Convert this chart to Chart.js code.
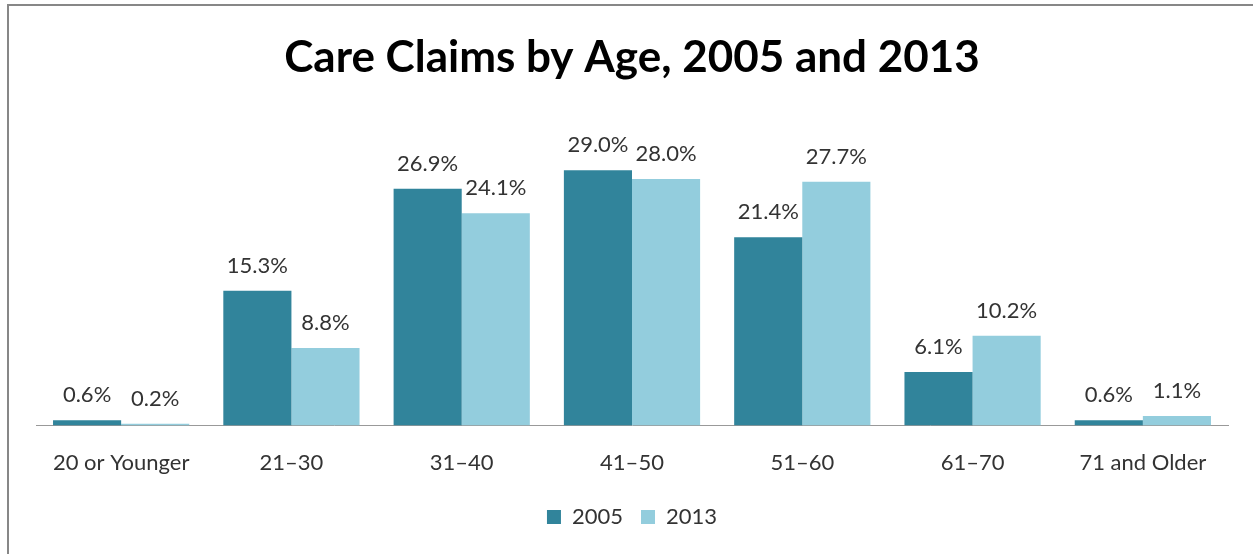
<!DOCTYPE html>
<html>
<head>
<meta charset="utf-8">
<script src="https://cdn.jsdelivr.net/npm/chart.js@4"></script>
<style>
  html, body { margin: 0; padding: 0; background: #fff; }
  #wrap { position: relative; width: 1253px; height: 554px; overflow: hidden; }
  #frame { position: absolute; left: 7px; top: 4px; width: 1400px; height: 700px;
           border: 2px solid #878787; box-sizing: border-box; }
  #chart { position: absolute; left: 0; top: 0; }
</style>
</head>
<body>
<div id="wrap">
  <div id="frame"></div>
  <canvas id="chart" width="1253" height="554"></canvas>
</div>
<script>
const ageGroups = ['20 or Younger', '21\u201330', '31\u201340', '41\u201350', '51\u201360', '61\u201370', '71 and Older'];
const claims2005 = [0.6, 15.3, 26.9, 29.0, 21.4, 6.1, 0.6];
const claims2013 = [0.2, 8.8, 24.1, 28.0, 27.7, 10.2, 1.1];

const FONT = 'Lato, "Open Sans", sans-serif';
const TEXT = '#333333';

// draws "x.x%" above each bar, positioned from the bar elements
const barLabels = {
    id: 'barLabels',
    afterDatasetsDraw: function (chart) {
        const ctx = chart.ctx;
        ctx.save();
        ctx.font = '22px ' + FONT;
        ctx.fillStyle = TEXT;
        ctx.textAlign = 'center';
        ctx.textBaseline = 'middle';
        chart.data.datasets.forEach(function (ds, i) {
            chart.getDatasetMeta(i).data.forEach(function (bar, j) {
                ctx.fillText(ds.data[j].toFixed(1) + '%', bar.x, bar.y - 25);
            });
        });
        ctx.restore();
    },
};

new Chart(document.getElementById('chart'), {
    type: 'bar',
    data: {
        labels: ageGroups,
        datasets: [
            { label: '2005', data: claims2005, backgroundColor: '#31849B' },
            { label: '2013', data: claims2013, backgroundColor: '#93CDDD' },
        ],
    },
    options: {
        responsive: false,
        animation: false,
        events: [],
        layout: { padding: { left: 36, right: 25, top: 0, bottom: 16 } },
        datasets: { bar: { barPercentage: 1.0, categoryPercentage: 0.8 } },
        plugins: {
            title: {
                display: true,
                text: 'Care Claims by Age, 2005 and 2013',
                color: '#000',
                font: { family: FONT, size: 44, weight: 'bold' },
                padding: { top: 31, bottom: 60 },
            },
            legend: {
                position: 'bottom',
                labels: {
                    color: TEXT,
                    font: { family: FONT, size: 22 },
                    boxWidth: 14,
                    boxHeight: 14,
                    padding: 18,
                },
            },
            tooltip: { enabled: false },
        },
        scales: {
            x: {
                grid: { display: false, drawTicks: false },
                border: { display: true, color: '#999999', width: 1 },
                ticks: { color: TEXT, font: { family: FONT, size: 22 }, padding: 24 },
                afterFit: function (scale) { scale.height -= 12; },
            },
            y: {
                display: false,
                min: 0,
                max: 32,
            },
        },
    },
    plugins: [barLabels],
});
</script>
</body>
</html>
